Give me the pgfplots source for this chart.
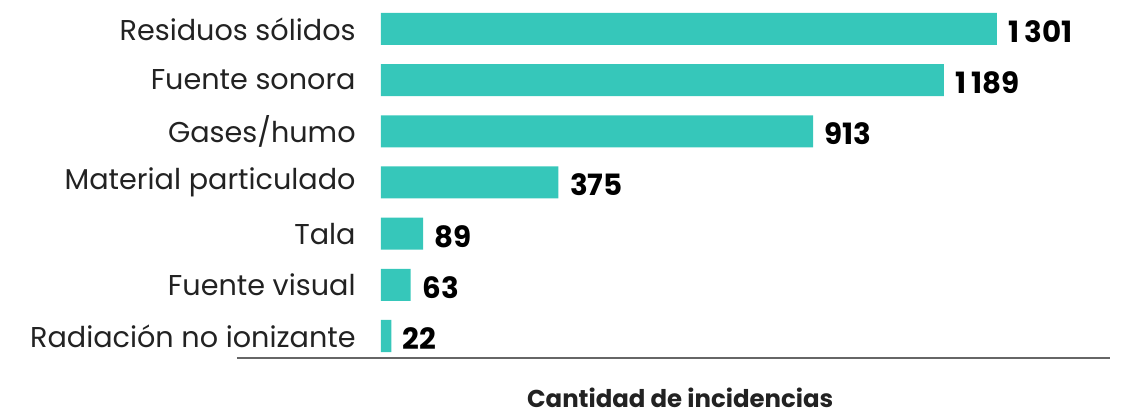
\documentclass[border=0pt]{standalone}
\usepackage{pgfplots}
\pgfplotsset{compat=1.18}
\usepackage{fontspec}
\setmainfont{Poppins}
\definecolor{barc}{HTML}{36C7BA}
\definecolor{txt}{HTML}{222222}
\begin{document}
\begin{tikzpicture}
\begin{axis}[
  scale only axis,
  width=654.75pt, height=266pt,
  xbar, bar width=24pt,
  xmin=-304, xmax=1540,
  ymin=-0.43, ymax=6.5,
  axis lines*=left,
  y axis line style={draw=none},
  x axis line style={draw=gray!80!black, line width=0.8pt},
  xtick=\empty,
  ytick={0,...,6},
  yticklabels={Radiación no ionizante, Fuente visual, Tala, Material particulado, Gases/humo, Fuente sonora, Residuos sólidos},
  major tick length=0pt,
  yticklabel style={anchor=east, xshift=92.5pt, font=\fontsize{21.5}{24}\selectfont, text=txt},
  /pgf/number format/assume math mode=true,
  /pgf/number format/1000 sep={\,},
  nodes near coords,
  nodes near coords style={anchor=west, xshift=5.2pt, yshift=-2pt, font=\fontsize{22}{24}\selectfont\bfseries, text=black},
  xlabel={Cantidad de incidencias},
  xlabel style={at={(axis description cs:0.5,0)}, anchor=center, inner sep=0pt, yshift=-29.5pt, xshift=5pt, font=\fontsize{18.3}{20}\selectfont\bfseries, text=txt},
]
\addplot[fill=barc, draw=none] coordinates {
(22,0) (63,1) (89,2) (375,3) (913,4) (1189,5) (1301,6)
};
\end{axis}
\path[use as bounding box] (current axis.south west) ++(-177.75pt,-40.5pt) rectangle ++(842.25pt,309pt);
\end{tikzpicture}
\end{document}
